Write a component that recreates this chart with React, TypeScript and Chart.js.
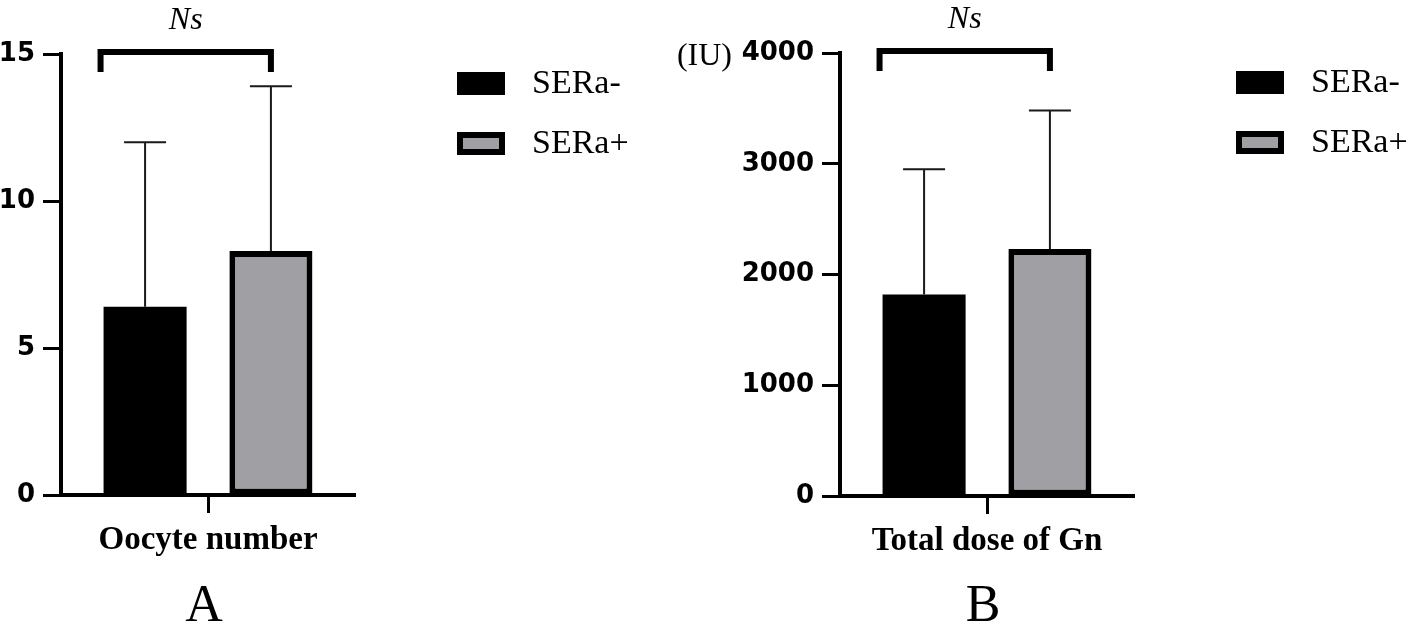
import React, { useEffect, useRef } from "react";
import { Chart, registerables } from "chart.js";

Chart.register(...registerables);

// ---------- data ----------
const seriesLabels = ["SERa-", "SERa+"];
const seriesColors = ["#000000", "#a0a0a4"];
const seriesBorderWidths = [0, 6];

const oocyteCategories = ["Oocyte number"];
const oocyteMeans = [6.4, 8.3];
const oocyteSD = [5.6, 5.6];
const oocyteTicks = [0, 5, 10, 15];

const doseCategories = ["Total dose of Gn"];
const doseMeans = [1820, 2230];
const doseSD = [1130, 1250];
const doseTicks = [0, 1000, 2000, 3000, 4000];

const significanceLabel = "Ns";

const H = 627;

type PanelCfg = {
  width: number;
  left: number;
  yAxisWidth: number;
  padRight: number;
  padTop: number;
  xAxisHeight: number;
  categories: string[];
  means: number[];
  sd: number[];
  ticks: number[];
  letter: string;
  unit?: string;
};

const panels: PanelCfg[] = [
  {
    width: 640,
    left: 0,
    yAxisWidth: 61,
    padRight: 285,
    padTop: 54,
    xAxisHeight: 132,
    categories: oocyteCategories,
    means: oocyteMeans,
    sd: oocyteSD,
    ticks: oocyteTicks,
    letter: "A",
  },
  {
    width: 776,
    left: 640,
    yAxisWidth: 200,
    padRight: 282,
    padTop: 53,
    xAxisHeight: 131,
    categories: doseCategories,
    means: doseMeans,
    sd: doseSD,
    ticks: doseTicks,
    letter: "B",
    unit: "(IU)",
  },
];

const overlayPlugin = {
  id: "overlay",
  afterDatasetsDraw(chart: any, _args: any, opts: any) {
    const ctx = chart.ctx as CanvasRenderingContext2D;
    const { top, left, right } = chart.chartArea;
    const yScale = chart.scales.y;
    const xScale = chart.scales.x;
    const bars = chart.data.datasets.map((_: any, i: number) =>
      chart.getDatasetMeta(i).data[0].getProps(["x", "width", "y"], true)
    );

    // error bars (upper only)
    ctx.save();
    ctx.strokeStyle = "#1a1a1a";
    ctx.lineWidth = 2;
    chart.data.datasets.forEach((ds: any, i: number) => {
      const v = ds.data[0];
      const yTop = yScale.getPixelForValue(v + opts.sd[i]);
      const yBar = yScale.getPixelForValue(v);
      const b = bars[i];
      ctx.beginPath();
      ctx.moveTo(b.x, yBar);
      ctx.lineTo(b.x, yTop);
      ctx.moveTo(b.x - 21, yTop);
      ctx.lineTo(b.x + 21, yTop);
      ctx.stroke();
    });
    ctx.restore();

    // significance bracket
    const xl = bars[0].x - bars[0].width / 2 - 6;
    const xr = bars[1].x;
    ctx.save();
    ctx.strokeStyle = "#000";
    ctx.lineWidth = 6;
    ctx.lineJoin = "miter";
    ctx.lineCap = "butt";
    ctx.beginPath();
    ctx.moveTo(xl + 3, top + 18);
    ctx.lineTo(xl + 3, top - 2);
    ctx.lineTo(xr, top - 2);
    ctx.lineTo(xr, top + 18);
    ctx.stroke();
    ctx.fillStyle = "#000";
    ctx.font = "italic 32px 'Liberation Serif'";
    ctx.textAlign = "center";
    ctx.textBaseline = "alphabetic";
    ctx.fillText(significanceLabel, (xl + xr + 3) / 2, top - 25);
    ctx.restore();

    // legend
    ctx.save();
    chart.data.datasets.forEach((ds: any, i: number) => {
      const bx = right + 102;
      const by = top + 18 + i * 60;
      ctx.fillStyle = "#000";
      ctx.fillRect(bx, by, 48, 23);
      const bw = ds.borderWidth || 0;
      if (bw > 0) {
        ctx.fillStyle = ds.backgroundColor;
        ctx.fillRect(bx + bw, by + bw, 48 - 2 * bw, 23 - 2 * bw);
      }
      ctx.fillStyle = "#000";
      ctx.font = "34px 'Liberation Serif'";
      ctx.textAlign = "left";
      ctx.textBaseline = "middle";
      ctx.fillText(ds.label, bx + 75, by + 12);
    });
    ctx.restore();

    // unit label
    if (opts.unit) {
      ctx.save();
      ctx.fillStyle = "#000";
      ctx.font = "32px 'Liberation Serif'";
      ctx.textAlign = "right";
      ctx.textBaseline = "middle";
      ctx.fillText(opts.unit, left - 108, top + 4);
      ctx.restore();
    }

    // panel letter
    ctx.save();
    ctx.fillStyle = "#000";
    ctx.font = "52px 'Liberation Serif'";
    ctx.textAlign = "center";
    ctx.textBaseline = "alphabetic";
    ctx.fillText(opts.letter, xScale.getPixelForValue(0) - 4, chart.height - 6);
    ctx.restore();
  },
};

function Panel({ cfg }: { cfg: PanelCfg }) {
  const ref = useRef<HTMLCanvasElement>(null);
  useEffect(() => {
    if (!ref.current) return;
    const chart = new Chart(ref.current, {
      type: "bar",
      data: {
        labels: cfg.categories,
        datasets: seriesLabels.map((label, i) => ({
          label,
          data: [cfg.means[i]],
          backgroundColor: seriesColors[i],
          borderColor: "#000",
          borderWidth: seriesBorderWidths[i],
          borderSkipped: false,
          categoryPercentage: 0.856,
          barPercentage: 0.66,
        })),
      },
      options: {
        responsive: false,
        animation: false,
        events: [],
        layout: { padding: { left: 0, right: cfg.padRight, top: cfg.padTop, bottom: 0 } },
        scales: {
          x: {
            type: "category",
            offset: true,
            afterFit: (s: any) => {
              s.height = cfg.xAxisHeight;
            },
            grid: {
              offset: false,
              drawOnChartArea: false,
              drawTicks: true,
              tickLength: 18,
              tickWidth: 3,
              tickColor: "#000",
              color: "#000",
            },
            border: { display: true, color: "#000", width: 4 },
            ticks: {
              color: "#000",
              padding: 8,
              maxRotation: 0,
              font: { family: "'Liberation Serif'", weight: "bold", size: 33 },
            },
          },
          y: {
            min: cfg.ticks[0],
            max: cfg.ticks[cfg.ticks.length - 1],
            afterFit: (s: any) => {
              s.width = cfg.yAxisWidth;
            },
            afterBuildTicks: (s: any) => {
              s.ticks = cfg.ticks.map((v) => ({ value: v }));
            },
            grid: {
              drawOnChartArea: false,
              drawTicks: true,
              tickLength: 18,
              tickWidth: 3,
              tickColor: "#000",
              color: "#000",
            },
            border: { display: true, color: "#000", width: 4 },
            ticks: {
              color: "#000",
              padding: 8,
              callback: (v: any) => String(v),
              font: { family: "'DejaVu Sans'", weight: "bold", size: 26 },
            },
          },
        },
        plugins: {
          legend: { display: false },
          tooltip: { enabled: false },
          overlay: { sd: cfg.sd, letter: cfg.letter, unit: cfg.unit },
        } as any,
      },
      plugins: [overlayPlugin],
    });
    return () => chart.destroy();
  }, [cfg]);
  return (
    <canvas
      ref={ref}
      width={cfg.width}
      height={H}
      style={{ position: "absolute", left: cfg.left, top: 0, width: cfg.width, height: H }}
    />
  );
}

export default function App() {
  return (
    <div
      style={{
        position: "fixed",
        left: 0,
        top: 0,
        width: 1416,
        height: H,
        background: "#fff",
        overflow: "hidden",
      }}
    >
      {panels.map((p) => (
        <Panel key={p.letter} cfg={p} />
      ))}
    </div>
  );
}
